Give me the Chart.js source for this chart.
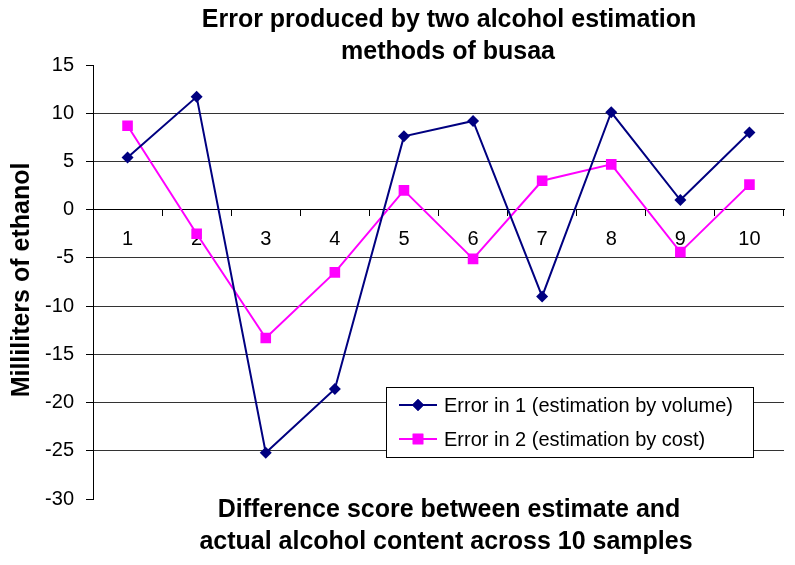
<!DOCTYPE html>
<html>
<head>
<meta charset="utf-8">
<script src="https://cdn.jsdelivr.net/npm/chart.js@4"></script>
<style>
  html, body { margin: 0; padding: 0; background: #fff; }
  #wrap { width: 795px; height: 565px; }
</style>
</head>
<body>
<div id="wrap"><canvas id="c" width="795" height="565"></canvas></div>
<script>
/* Erro das duas estimativas de álcool — busaa */

const samples = ["1", "2", "3", "4", "5", "6", "7", "8", "9", "10"];
const errVolume = [5.4, 11.7, -25.2, -18.6, 7.6, 9.2, -9.0, 10.1, 1.0, 8.0];
const errCost = [8.7, -2.5, -13.3, -6.5, 2.0, -5.1, 3.0, 4.7, -4.4, 2.6];
const yTicks = [15, 10, 5, 0, -5, -10, -15, -20, -25, -30];

const titleLines = ["Error produced by two alcohol estimation", "methods of busaa"];
const xTitleLines = ["Difference score between estimate and", "actual alcohol content across 10 samples"];
const yTitle = "Milliliters of ethanol";

const FONT = "'Liberation Sans', Arial, sans-serif";
const NAVY = "#000080";
const MAGENTA = "#ff00ff";

const textPlugin = {
  id: "textos",
  afterDraw(chart) {
    const ctx = chart.ctx;
    ctx.save();
    ctx.fillStyle = "#000";
    ctx.textAlign = "center";
    ctx.textBaseline = "alphabetic";
    ctx.font = `bold 25px ${FONT}`;
    ctx.fillText(titleLines[0], 449, 27);
    ctx.fillText(titleLines[1], 448, 59);
    ctx.fillText(xTitleLines[0], 449, 517);
    ctx.fillText(xTitleLines[1], 446, 549);

    ctx.save();
    ctx.translate(29, 280);
    ctx.rotate(-Math.PI / 2);
    ctx.fillText(yTitle, 0, 0);
    ctx.restore();

    // legenda dentro da área do gráfico
    const lx = 386, ly = 387, lw = 367, lh = 70;
    ctx.fillStyle = "#fff";
    ctx.fillRect(lx, ly, lw, lh);
    ctx.strokeStyle = "#000";
    ctx.lineWidth = 1;
    ctx.strokeRect(lx + 0.5, ly + 0.5, lw, lh);

    chart.data.datasets.forEach((ds, i) => {
      const cy = 405 + i * 34;
      ctx.strokeStyle = ds.borderColor;
      ctx.lineWidth = 2;
      ctx.beginPath();
      ctx.moveTo(399, cy);
      ctx.lineTo(437, cy);
      ctx.stroke();
      ctx.fillStyle = ds.backgroundColor;
      Chart.helpers.drawPoint(ctx, {
        pointStyle: ds.pointStyle, radius: ds.pointRadius, rotation: 0, borderWidth: 0
      }, 418, cy);
      ctx.fill();
      ctx.fillStyle = "#000";
      ctx.textAlign = "left";
      ctx.textBaseline = "middle";
      ctx.font = `20px ${FONT}`;
      ctx.fillText(ds.label, 444, cy + 1);
    });
    ctx.restore();
  },
};

new Chart(document.getElementById("c"), {
  type: "line",
  data: {
    labels: samples,
    datasets: [
      {
        label: "Error in 1 (estimation by volume)",
        data: errVolume,
        borderColor: NAVY,
        backgroundColor: NAVY,
        borderWidth: 2,
        pointStyle: "rectRot",
        pointRadius: 6,
        pointBorderWidth: 0,
        tension: 0,
      },
      {
        label: "Error in 2 (estimation by cost)",
        data: errCost,
        borderColor: MAGENTA,
        backgroundColor: MAGENTA,
        borderWidth: 2,
        pointStyle: "rect",
        pointRadius: 7.5,
        pointBorderWidth: 0,
        tension: 0,
      },
    ],
  },
  options: {
    responsive: false,
    animation: false,
    layout: { padding: { top: 65, bottom: 66, left: 0, right: 11 } },
    plugins: {
      legend: { display: false },
      title: { display: false },
      tooltip: { enabled: false },
    },
    scales: {
      x: {
        type: "category",
        position: { y: 0 },
        offset: true,
        afterFit: (s) => { s.height = 0; },
        grid: { offset: true, drawOnChartArea: false, tickLength: 6, color: "#000", lineWidth: 1 },
        border: { color: "#000", width: 1 },
        ticks: { color: "#000", font: { family: FONT, size: 20 }, padding: 12, maxRotation: 0 },
      },
      y: {
        min: -30,
        max: 15,
        afterFit: (s) => { s.width = 93; },
        afterBuildTicks: (s) => { s.ticks = yTicks.map((v) => ({ value: v })); },
        grid: {
          color: (c) => (c.tick && (c.tick.value === 15 || c.tick.value === -30) ? "rgba(0,0,0,0)" : "#333"),
          tickColor: "#000",
          tickLength: 7,
          lineWidth: 1,
        },
        border: { color: "#000", width: 1 },
        ticks: { color: "#000", font: { family: FONT, size: 20 }, padding: 12 },
      },
    },
  },
  plugins: [textPlugin],
});
</script>
</body>
</html>
